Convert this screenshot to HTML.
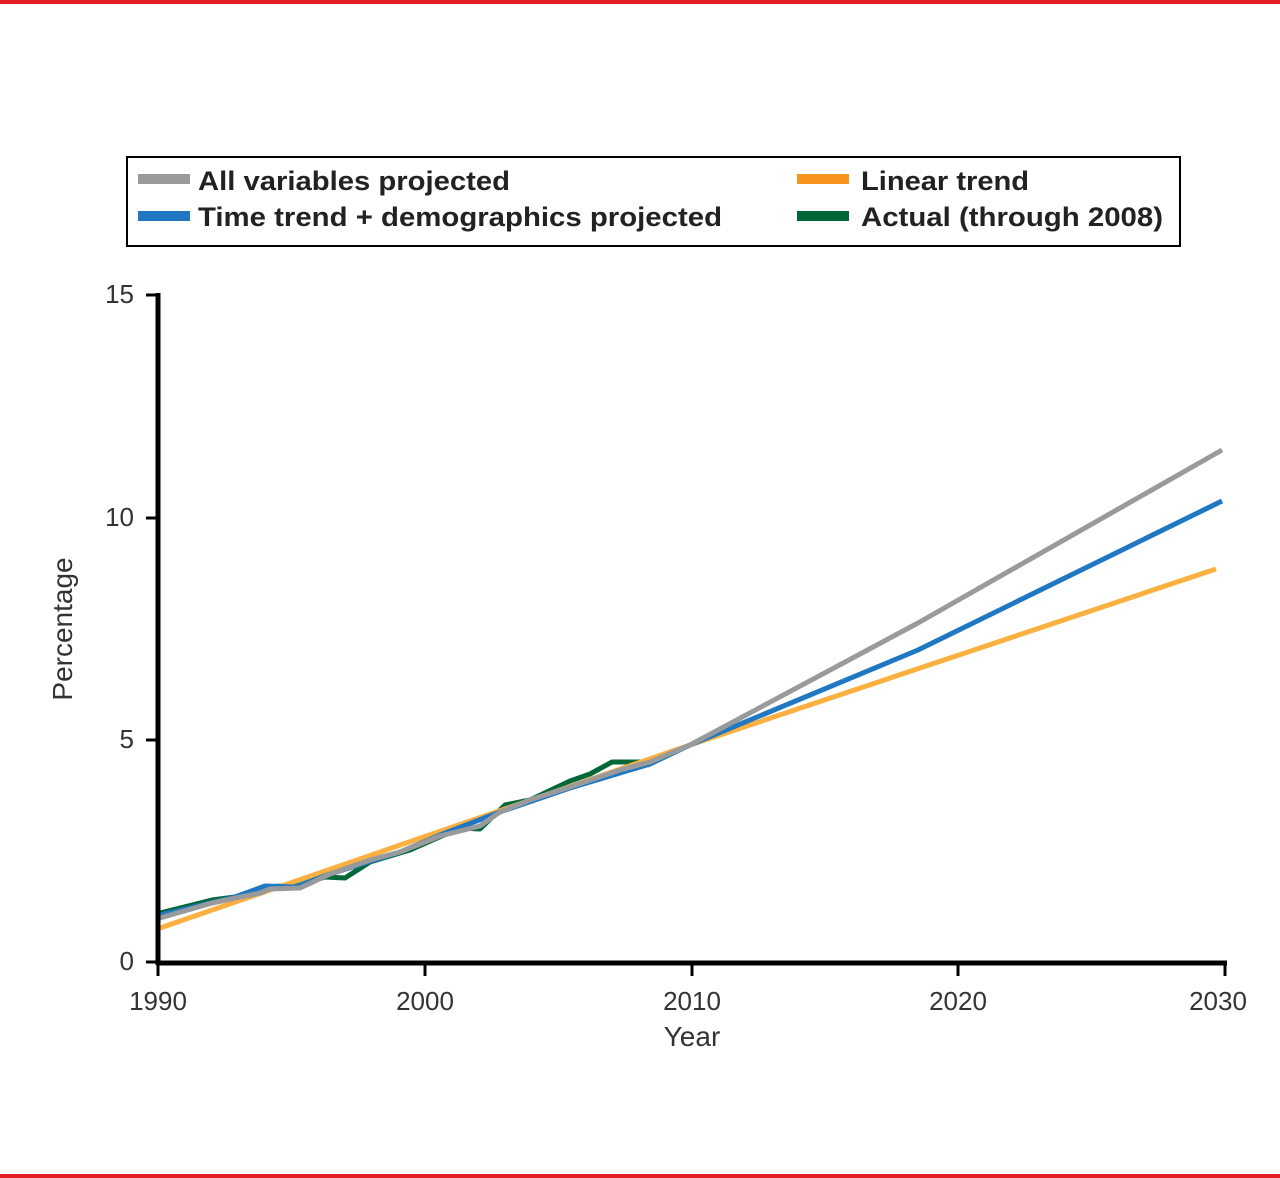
<!DOCTYPE html>
<html><head><style>
body{margin:0;background:#fff;}
svg{display:block;font-family:"Liberation Sans",Arial,sans-serif;}
</style></head><body>
<svg width="1280" height="1178" viewBox="0 0 1280 1178">
<rect x="0" y="0" width="1280" height="4" fill="#e31e24"/>
<rect x="0" y="1174" width="1280" height="4" fill="#e31e24"/>
<rect x="127" y="157" width="1053" height="89" fill="none" stroke="#000" stroke-width="2"/>
<g font-size="27" font-weight="bold" fill="#222">
<rect x="138" y="174" width="52" height="10" fill="#999a9c"/>
<text x="198" y="190" textLength="312" lengthAdjust="spacingAndGlyphs">All variables projected</text>
<rect x="138" y="211" width="52" height="10" fill="#1f78c1"/>
<text x="198" y="226" textLength="524" lengthAdjust="spacingAndGlyphs">Time trend + demographics projected</text>
<rect x="797" y="174" width="52" height="10" fill="#f7941d"/>
<text x="861" y="190" textLength="168" lengthAdjust="spacingAndGlyphs">Linear trend</text>
<rect x="797" y="211" width="52" height="10" fill="#006838"/>
<text x="861" y="226" textLength="302" lengthAdjust="spacingAndGlyphs">Actual (through 2008)</text>
</g>
<g fill="none" stroke-width="5" stroke-linejoin="round">
<polyline stroke="#006838" points="160,913 212,900 235,897 265,887 300,885 325,877 345,878 370,862 410,850 460,828 480,829 505,805 530,800 570,781 590,774 612,762 640,762 650,765"/>
<polyline stroke="#fbb040" points="160,928 690,745 1216,569"/>
<polyline stroke="#1f78c1" points="160,915 235,897 265,886 295,887 330,874 400,852 440,835 500,812 570,788 610,776 650,764 690,745 918,650 1222,501"/>
<polyline stroke="#999a9c" points="160,918 212,903 260,893 270,889 300,888 330,874 370,860 400,852 440,836 480,826 500,812 530,800 570,787 620,770 650,762 690,745 918,623 1222,450"/>
</g>
<g stroke="#000" stroke-width="5">
<line x1="158" y1="293" x2="158" y2="965"/>
<line x1="156" y1="963" x2="1227" y2="963"/>
</g>
<g stroke="#000" stroke-width="3">
<line x1="146" y1="295" x2="158" y2="295"/>
<line x1="146" y1="518" x2="158" y2="518"/>
<line x1="146" y1="740" x2="158" y2="740"/>
<line x1="146" y1="962" x2="158" y2="962"/>
<line x1="158" y1="963" x2="158" y2="976"/>
<line x1="425" y1="963" x2="425" y2="976"/>
<line x1="692" y1="963" x2="692" y2="976"/>
<line x1="958" y1="963" x2="958" y2="976"/>
<line x1="1225" y1="963" x2="1225" y2="976"/>
</g>
<g font-size="26" fill="#333">
<text x="134" y="303" text-anchor="end">15</text>
<text x="134" y="526" text-anchor="end">10</text>
<text x="134" y="748" text-anchor="end">5</text>
<text x="134" y="970" text-anchor="end">0</text>
<g text-anchor="middle">
<text x="158" y="1010">1990</text>
<text x="425" y="1010">2000</text>
<text x="692" y="1010">2010</text>
<text x="958" y="1010">2020</text>
<text x="1218" y="1010">2030</text>
<text x="692" y="1046" font-size="28">Year</text>
<text transform="translate(72,629) rotate(-90)" font-size="28">Percentage</text>
</g>
</g>
</svg>
</body></html>
